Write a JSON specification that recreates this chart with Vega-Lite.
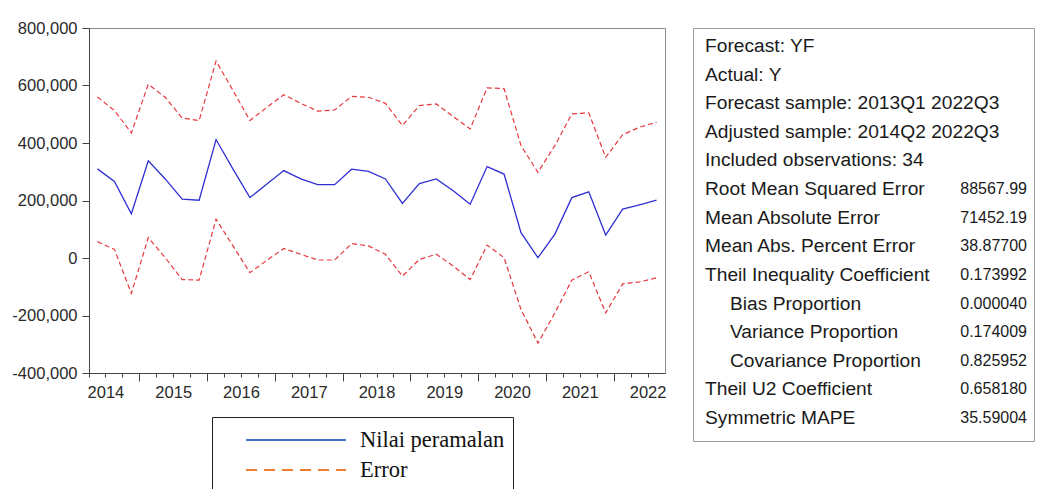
{
  "$schema": "https://vega.github.io/schema/vega-lite/v6.json",
  "background": "white",
  "padding": {"left": 11, "top": 19, "right": 0, "bottom": 0},
  "bounds": "flush",
  "spacing": 28,
  "config": {
    "font": "Liberation Sans",
    "view": {"stroke": null}
  },
  "datasets": {
    "forecast": [
      {"obs": "2014Q2", "yf": 310000, "upper": 560000, "lower": 57000},
      {"obs": "2014Q3", "yf": 266000, "upper": 513000, "lower": 30000},
      {"obs": "2014Q4", "yf": 154000, "upper": 435000, "lower": -123000},
      {"obs": "2015Q1", "yf": 338000, "upper": 604000, "lower": 71000},
      {"obs": "2015Q2", "yf": 275000, "upper": 559000, "lower": 1000},
      {"obs": "2015Q3", "yf": 205000, "upper": 487000, "lower": -75000},
      {"obs": "2015Q4", "yf": 201000, "upper": 478000, "lower": -77000},
      {"obs": "2016Q1", "yf": 412000, "upper": 685000, "lower": 135000},
      {"obs": "2016Q2", "yf": 309000, "upper": 583000, "lower": 42000},
      {"obs": "2016Q3", "yf": 210000, "upper": 478000, "lower": -51000},
      {"obs": "2016Q4", "yf": 257000, "upper": 524000, "lower": -8000},
      {"obs": "2017Q1", "yf": 304000, "upper": 568000, "lower": 33000},
      {"obs": "2017Q2", "yf": 275000, "upper": 538000, "lower": 13000},
      {"obs": "2017Q3", "yf": 255000, "upper": 511000, "lower": -7000},
      {"obs": "2017Q4", "yf": 255000, "upper": 515000, "lower": -7000},
      {"obs": "2018Q1", "yf": 309000, "upper": 562000, "lower": 50000},
      {"obs": "2018Q2", "yf": 301000, "upper": 559000, "lower": 42000},
      {"obs": "2018Q3", "yf": 275000, "upper": 538000, "lower": 13000},
      {"obs": "2018Q4", "yf": 190000, "upper": 461000, "lower": -63000},
      {"obs": "2019Q1", "yf": 259000, "upper": 530000, "lower": -5000},
      {"obs": "2019Q2", "yf": 275000, "upper": 536000, "lower": 13000},
      {"obs": "2019Q3", "yf": 234000, "upper": 492000, "lower": -28000},
      {"obs": "2019Q4", "yf": 187000, "upper": 449000, "lower": -75000},
      {"obs": "2020Q1", "yf": 318000, "upper": 592000, "lower": 45000},
      {"obs": "2020Q2", "yf": 292000, "upper": 589000, "lower": 1000},
      {"obs": "2020Q3", "yf": 88000, "upper": 391000, "lower": -179000},
      {"obs": "2020Q4", "yf": 1000, "upper": 298000, "lower": -296000},
      {"obs": "2021Q1", "yf": 83000, "upper": 391000, "lower": -191000},
      {"obs": "2021Q2", "yf": 210000, "upper": 501000, "lower": -77000},
      {"obs": "2021Q3", "yf": 230000, "upper": 505000, "lower": -48000},
      {"obs": "2021Q4", "yf": 80000, "upper": 350000, "lower": -191000},
      {"obs": "2022Q1", "yf": 170000, "upper": 429000, "lower": -90000},
      {"obs": "2022Q2", "yf": 185000, "upper": 455000, "lower": -83000},
      {"obs": "2022Q3", "yf": 201000, "upper": 472000, "lower": -69000}
    ],
    "series": [
      {"series": "Nilai peramalan"},
      {"series": "Error"}
    ],
    "stats": [
      {"label": "Forecast: YF", "value": ""},
      {"label": "Actual: Y", "value": ""},
      {"label": "Forecast sample: 2013Q1 2022Q3", "value": ""},
      {"label": "Adjusted sample: 2014Q2 2022Q3", "value": ""},
      {"label": "Included observations: 34", "value": ""},
      {"label": "Root Mean Squared Error", "value": "88567.99"},
      {"label": "Mean Absolute Error", "value": "71452.19"},
      {"label": "Mean Abs. Percent Error", "value": "38.87700"},
      {"label": "Theil Inequality Coefficient", "value": "0.173992"},
      {"label": "Bias Proportion", "value": "0.000040"},
      {"label": "Variance Proportion", "value": "0.174009"},
      {"label": "Covariance Proportion", "value": "0.825952"},
      {"label": "Theil U2 Coefficient", "value": "0.658180"},
      {"label": "Symmetric MAPE", "value": "35.59004"}
    ]
  },
  "hconcat": [
    {
      "width": 576,
      "height": 345,
      "view": {"stroke": "#8c8c8c", "strokeWidth": 1},
      "layer": [
        {
          "data": {"name": "forecast"},
          "mark": {"type": "line", "strokeWidth": 1.3, "color": "#2f2fd4"},
          "encoding": {
            "x": {
              "field": "obs",
              "type": "ordinal",
              "bandPosition": 0.5,
              "scale": {"type": "band", "paddingInner": 0, "paddingOuter": 0},
              "axis": {
                "title": null,
                "bandPosition": 0,
                "labelAngle": 0,
                "labelExpr": "slice(datum.value, 4) == 'Q3' ? slice(datum.value, 0, 4) : ''",
                "labelOffset": -8.47,
                "labelFontSize": 16.5,
                "labelColor": "#2a2a2a",
                "labelPadding": 7,
                "labelOverlap": false,
                "tickSize": {"condition": {"test": "slice(datum.value, 4) == 'Q1'", "value": 8}, "value": 4},
                "tickColor": "#444",
                "domainColor": "#444"
              }
            },
            "y": {
              "field": "yf",
              "type": "quantitative",
              "scale": {"domain": [-400000, 800000], "nice": false, "zero": false},
              "axis": {
                "title": null,
                "grid": false,
                "values": [-400000, -200000, 0, 200000, 400000, 600000, 800000],
                "labelExpr": "replace(format(datum.value, ','), '\u2212', '-')",
                "labelFontSize": 16.5,
                "labelColor": "#2a2a2a",
                "labelPadding": 5,
                "tickSize": 7,
                "tickColor": "#444",
                "domainColor": "#444"
              }
            }
          }
        },
        {
          "data": {"name": "forecast"},
          "mark": {"type": "line", "strokeWidth": 1.2, "strokeDash": [5, 3], "color": "#e8393e"},
          "encoding": {
            "x": {"field": "obs", "type": "ordinal", "bandPosition": 0.5},
            "y": {"field": "upper", "type": "quantitative"}
          }
        },
        {
          "data": {"name": "forecast"},
          "mark": {"type": "line", "strokeWidth": 1.2, "strokeDash": [5, 3], "color": "#e8393e"},
          "encoding": {
            "x": {"field": "obs", "type": "ordinal", "bandPosition": 0.5},
            "y": {"field": "lower", "type": "quantitative"}
          }
        },
        {
          "data": {"name": "series"},
          "mark": {"type": "point", "opacity": 0},
          "encoding": {
            "color": {
              "field": "series",
              "type": "nominal",
              "sort": null,
              "scale": {"domain": ["Nilai peramalan", "Error"], "range": ["#4472C4", "#ED7D31"]},
              "legend": {
                "title": null,
                "orient": "none",
                "legendX": 123,
                "legendY": 389,
                "direction": "vertical",
                "symbolType": "stroke",
                "symbolSize": 10000,
                "symbolStrokeWidth": 2,
                "symbolOpacity": 1,
                "clipHeight": 30,
                "rowPadding": 0,
                "padding": 8,
                "symbolOffset": 25,
                "labelOffset": 13,
                "labelFont": "Liberation Serif",
                "labelFontSize": 22.5,
                "labelColor": "#111",
                "labelLimit": 300,
                "strokeColor": "#222",
                "fillColor": "white"
              }
            },
            "strokeDash": {
              "field": "series",
              "type": "nominal",
              "sort": null,
              "scale": {"domain": ["Nilai peramalan", "Error"], "range": [[1, 0], [11, 7]]},
              "legend": {"title": null}
            }
          }
        }
      ]
    },
    {
      "width": 341,
      "height": 413,
      "data": {"name": "stats"},
      "view": {"stroke": "#9a9a9a", "strokeWidth": 1},
      "encoding": {
        "y": {
          "field": "label",
          "type": "ordinal",
          "axis": null,
          "scale": {
            "type": "point",
            "padding": 0,
            "range": [18, 390],
            "domain": [
              "Forecast: YF",
              "Actual: Y",
              "Forecast sample: 2013Q1 2022Q3",
              "Adjusted sample: 2014Q2 2022Q3",
              "Included observations: 34",
              "Root Mean Squared Error",
              "Mean Absolute Error",
              "Mean Abs. Percent Error",
              "Theil Inequality Coefficient",
              "Bias Proportion",
              "Variance Proportion",
              "Covariance Proportion",
              "Theil U2 Coefficient",
              "Symmetric MAPE"
            ]
          }
        }
      },
      "layer": [
        {
          "transform": [{"filter": "indexof(datum.label, 'Proportion') < 0"}],
          "mark": {"type": "text", "align": "left", "baseline": "middle", "fontSize": 19.2, "color": "#1a1a1a", "dx": 12},
          "encoding": {
            "x": {"datum": 0, "type": "quantitative", "scale": {"domain": [0, 1], "nice": false}, "axis": null},
            "text": {"field": "label"}
          }
        },
        {
          "transform": [{"filter": "indexof(datum.label, 'Proportion') >= 0"}],
          "mark": {"type": "text", "align": "left", "baseline": "middle", "fontSize": 19.2, "color": "#1a1a1a", "dx": 37},
          "encoding": {
            "x": {"datum": 0, "type": "quantitative"},
            "text": {"field": "label"}
          }
        },
        {
          "mark": {"type": "text", "align": "right", "baseline": "middle", "fontSize": 16, "color": "#1a1a1a", "dx": -7},
          "encoding": {
            "x": {"datum": 1, "type": "quantitative"},
            "text": {"field": "value"}
          }
        }
      ]
    }
  ]
}
